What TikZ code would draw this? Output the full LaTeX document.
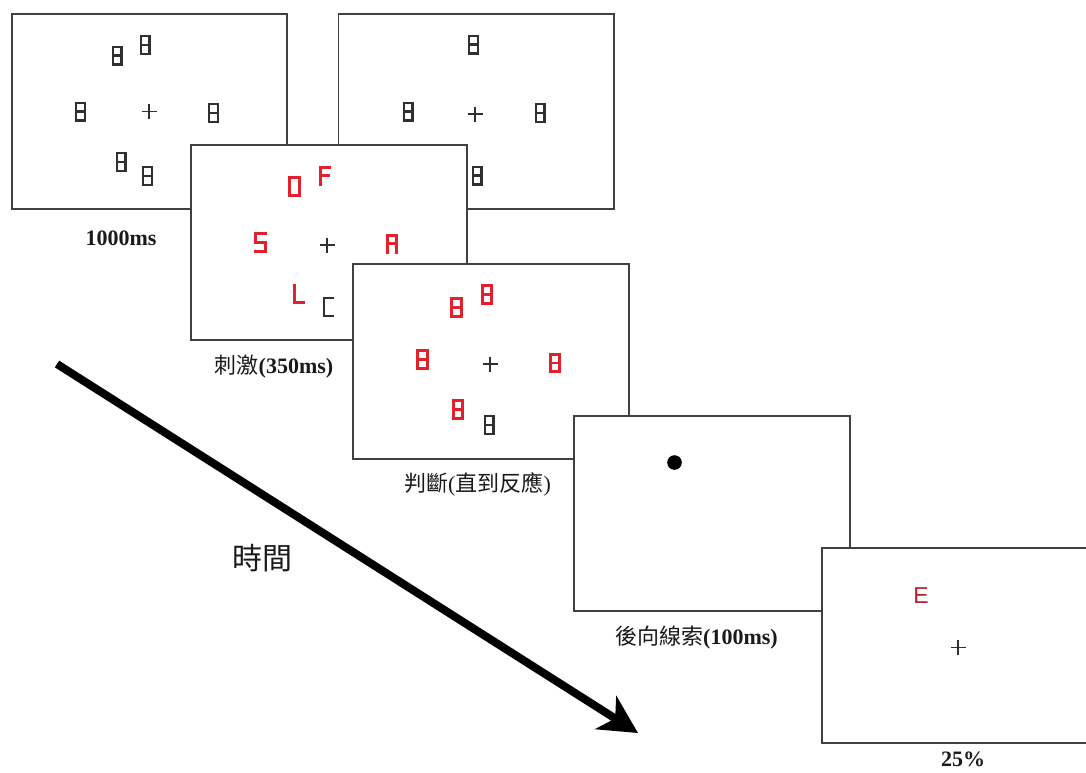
\documentclass[tikz,border=0pt]{standalone}
\usepackage{fontspec}
\setmainfont{Liberation Serif}
\newfontfamily\cjk{Noto Sans CJK TC}
\newfontfamily\arialf{Liberation Sans}
\usetikzlibrary{arrows.meta}
\definecolor{framecol}{HTML}{404040}
\definecolor{glyphgray}{HTML}{303030}
\definecolor{glyphred}{HTML}{E3202B}
\definecolor{ered}{HTML}{B8202E}
\definecolor{labcol}{HTML}{1A1A1A}
\def\gw{4}\def\gh{9}
\tikzset{
  screen/.style={draw=framecol, line width=1.8pt, fill=white,
    minimum width=275.6pt, minimum height=195pt, inner sep=0pt, outer sep=0pt},
  seg/.style={line width=2.4pt, line cap=rect, line join=miter, draw=glyphgray,
    /utils/exec={\def\gw{4.3}\def\gh{8.8}}},
  redseg/.style={line width=2.7pt, line cap=rect, line join=miter, draw=glyphred,
    /utils/exec={\def\gw{4.8}\def\gh{8.7}}},
  lab/.style={inner sep=0pt, text=labcol, font=\fontsize{22}{24}\selectfont},
  pics/eight/.style={code={\draw[#1] (-\gw,-\gh) rectangle (\gw,\gh) (-\gw,0) -- (\gw,0);}},
  pics/eight/.default=seg,
  pics/zero/.style={code={\draw[#1] (-\gw,-\gh) rectangle (\gw,\gh);}},
  pics/zero/.default=seg,
  pics/segF/.style={code={\draw[#1] (\gw,-\gh) -- (-\gw,-\gh) -- (-\gw,\gh) (-\gw,-0.5) -- (\gw-1,-0.5);}},
  pics/segF/.default=seg,
  pics/segS/.style={code={\draw[#1] (\gw,-\gh) -- (-\gw,-\gh) -- (-\gw,0) -- (\gw,0) -- (\gw,\gh) -- (-\gw,\gh);}},
  pics/segS/.default=seg,
  pics/segA/.style={code={\draw[#1] (-\gw,\gh) -- (-\gw,-\gh) -- (\gw,-\gh) -- (\gw,\gh) (-\gw,-0.5) -- (\gw,-0.5);}},
  pics/segA/.default=seg,
  pics/segL/.style={code={\draw[#1] (-\gw,-\gh) -- (-\gw,\gh) -- (\gw,\gh);}},
  pics/segL/.default=seg,
  pics/segC/.style={code={\draw[#1] (\gw,-\gh) -- (-\gw,-\gh) -- (-\gw,\gh) -- (\gw,\gh);}},
  pics/segC/.default=seg,
  pics/fixcross/.style={code={\draw[line width=1.4pt, draw=glyphgray] (-7.5,0) -- (7.5,0) (0,-7.5) -- (0,7.5);}}
}
\begin{document}
\begin{tikzpicture}[x=1pt,y=-1pt]
\useasboundingbox (0,0) rectangle (1086,772);
\clip (0,0) rectangle (1086,772);
\fill[white] (0,0) rectangle (1086,772);

% screen 1
\node[screen] (f1) at (149.5,111.8) {};
\pic at (117,55.5) {eight};
\pic at (145,45) {eight};
\pic at (80.5,111.5) {eight};
\pic at (213.5,113) {eight};
\pic at (121,162) {eight};
\pic at (147.5,176) {eight};
\pic at (149,111.5) {fixcross};

% screen 2
\node[screen] (f2) at (476.3,111.8) {};
\pic at (473.5,44.5) {eight};
\pic at (408,111.5) {eight};
\pic at (540,113) {eight};
\pic at (477,175.5) {eight};
\pic at (475,114) {fixcross};

% screen 3 (stimulus)
\node[screen] (f3) at (328.8,242.5) {};
\pic at (294.5,186.5) {zero=redseg};
\pic at (325,176) {segF=redseg};
\pic at (260.5,242.5) {segS=redseg};
\pic at (392,244) {segA=redseg};
\pic at (299,294) {segL=redseg};
\pic at (328,307) {segC};
\pic at (327,245) {fixcross};

% screen 4 (judgement)
\node[screen] (f4) at (491,361.5) {};
\pic at (456.5,307.5) {eight=redseg};
\pic at (487,294.5) {eight=redseg};
\pic at (422.5,359.5) {eight=redseg};
\pic at (555,363) {eight=redseg};
\pic at (458,409.5) {eight=redseg};
\pic at (489,425) {eight};
\pic at (490,364) {fixcross};

% screen 5 (backward cue)
\node[screen] (f5) at (712,513.5) {};
\node[circle, fill=black, minimum size=14.6pt, inner sep=0pt] (cue) at (674.5,462.5) {};

% screen 6
\node[screen] (f6) at (959.7,645.3) {};
\node[inner sep=0pt, text=ered, font=\arialf\fontsize{23}{24}\selectfont] (probe) at (921,596) {E};
\pic at (958,647.5) {fixcross};

% labels
\node[lab] (l1) at (121,238) {\textbf{1000ms}};
\node[lab] (l3) at (274,367) {{\cjk 刺激}\textbf{(350ms)}};
\node[lab] (l4) at (477.5,484) {{\cjk 判斷}({\cjk 直到反應})};
\node[lab] (l5) at (696.5,638) {{\cjk 後向線索}\textbf{(100ms)}};
\node[lab] (l6) at (963,759) {\textbf{25\%}};
\node[inner sep=0pt, text=labcol, font=\cjk\fontsize{30}{32}\selectfont] (time) at (262,558) {時間};

% time arrow
\coordinate (arrowstart) at (57,364);
\coordinate (arrowend) at (638,733);
\draw[line width=8pt, -{Stealth[length=38pt,width=39pt,inset=11pt]}] (arrowstart) -- (arrowend);
\end{tikzpicture}
\end{document}
